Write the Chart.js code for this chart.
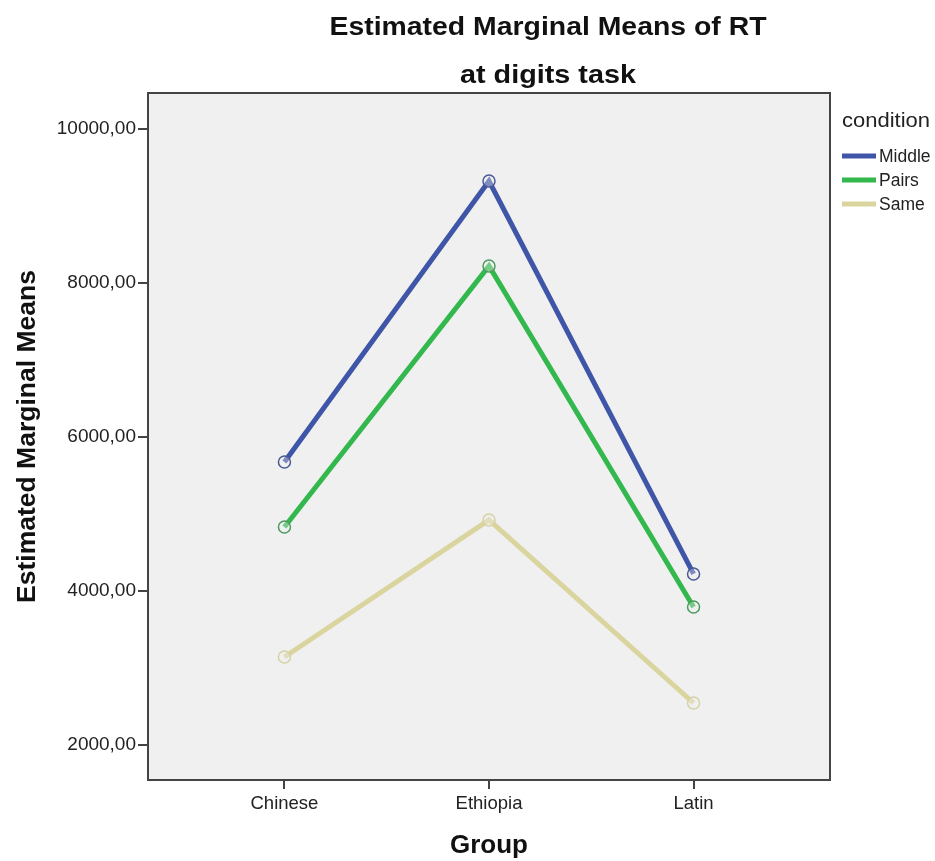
<!DOCTYPE html>
<html lang="en">
<head>
<meta charset="UTF-8">
<title>Estimated Marginal Means of RT</title>
<script src="https://cdn.jsdelivr.net/npm/chart.js@4"></script>
<style>
  body { margin: 0; background: #fff; }
  canvas { display: block; }
</style>
</head>
<body>
<canvas id="myChart" width="935" height="861"></canvas>
<script>
// data
const groups = ['Chinese', 'Ethiopia', 'Latin'];
const conditions = ['Middle', 'Pairs', 'Same'];
const middle = [5675, 9325, 4221];
const pairs = [4831, 8221, 3792];
const same = [3143, 4922, 2545];
const yTicks = [2000, 4000, 6000, 8000, 10000];

const lineColors = ['#3f56a8', '#33b84d', '#dad59f'];
const pointColors = ['#4b5a96', '#4f9a60', '#d6d2a4'];
const seriesValues = [middle, pairs, same];

const FONT = "'Liberation Sans', Arial, sans-serif";

// draws text squeezed/stretched to a given width
function fitText(ctx, text, cx, cy, width) {
    const w = ctx.measureText(text).width;
    ctx.save();
    ctx.translate(cx, cy);
    ctx.scale(width / w, 1);
    ctx.fillText(text, 0, 0);
    ctx.restore();
}

const plotFrame = {
    id: 'plotFrame',
    beforeDraw(chart) {
        const a = chart.chartArea, ctx = chart.ctx;
        ctx.save();
        ctx.fillStyle = '#f0f0f0';
        ctx.fillRect(a.left, a.top, a.right - a.left, a.bottom - a.top);
        ctx.restore();
    },
    afterDraw(chart) {
        const a = chart.chartArea, ctx = chart.ctx;
        ctx.save();
        ctx.strokeStyle = '#444';
        ctx.lineWidth = 2;
        ctx.strokeRect(a.left, a.top, a.right - a.left, a.bottom - a.top);

        // title, two lines
        ctx.fillStyle = '#111';
        ctx.font = 'bold 26px ' + FONT;
        ctx.textAlign = 'center';
        ctx.textBaseline = 'middle';
        fitText(ctx, 'Estimated Marginal Means of RT', 548, 28, 437);
        fitText(ctx, 'at digits task', 548, 76, 176);

        // legend
        ctx.textAlign = 'left';
        ctx.fillStyle = '#222';
        ctx.font = '20px ' + FONT;
        fitText(ctx, 'condition', 842, 121, 88);
        ctx.font = '17.5px ' + FONT;
        chart.data.datasets.forEach((ds, i) => {
            const y = 156 + i * 24;
            ctx.strokeStyle = ds.borderColor;
            ctx.lineWidth = 5;
            ctx.beginPath();
            ctx.moveTo(842, y);
            ctx.lineTo(876, y);
            ctx.stroke();
            ctx.fillStyle = '#222';
            ctx.fillText(ds.label, 879, y + 1);
        });
        ctx.restore();
    }
};

const datasets = conditions.map((c, i) => ({
    label: c,
    data: seriesValues[i].map((v, j) => ({ x: j, y: v })),
    borderColor: lineColors[i],
    borderWidth: 5,
    pointRadius: 6,
    pointBorderWidth: 1.5,
    pointBorderColor: pointColors[i],
    pointBackgroundColor: 'rgba(240,240,240,0.35)',
    fill: false,
    tension: 0
}));

new Chart(document.getElementById('myChart').getContext('2d'), {
    type: 'line',
    data: { datasets: datasets },
    options: {
        responsive: false,
        animation: false,
        layout: { padding: { left: 0, top: 93, right: 105, bottom: 0 } },
        plugins: {
            legend: { display: false },
            title: { display: false },
            tooltip: { enabled: false }
        },
        scales: {
            x: {
                type: 'linear',
                min: -0.667,
                max: 2.667,
                afterBuildTicks: s => { s.ticks = groups.map((g, i) => ({ value: i })); },
                afterFit: s => { s.height = 81; },
                ticks: {
                    callback: v => groups[v],
                    font: { family: FONT, size: 18.5 },
                    color: '#222',
                    padding: 4
                },
                grid: { drawOnChartArea: false, tickLength: 9, color: '#444', lineWidth: 2 },
                border: { display: false },
                title: {
                    display: true,
                    text: 'Group',
                    font: { family: FONT, size: 26, weight: 'bold' },
                    color: '#111',
                    padding: { top: 5, bottom: 0 }
                }
            },
            y: {
                min: 1545,
                max: 10468,
                afterBuildTicks: s => { s.ticks = yTicks.map(v => ({ value: v })); },
                afterFit: s => { s.width = 148; },
                ticks: {
                    callback: v => v.toFixed(2).replace('.', ','),
                    font: { family: FONT, size: 19 },
                    color: '#222',
                    padding: 2
                },
                grid: { drawOnChartArea: false, tickLength: 10, color: '#444', lineWidth: 2 },
                border: { display: false },
                title: {
                    display: true,
                    text: 'Estimated Marginal Means',
                    font: { family: FONT, size: 26.5, weight: 'bold' },
                    color: '#111',
                    padding: { top: 12, bottom: 0 }
                }
            }
        }
    },
    plugins: [plotFrame]
});
</script>
</body>
</html>
